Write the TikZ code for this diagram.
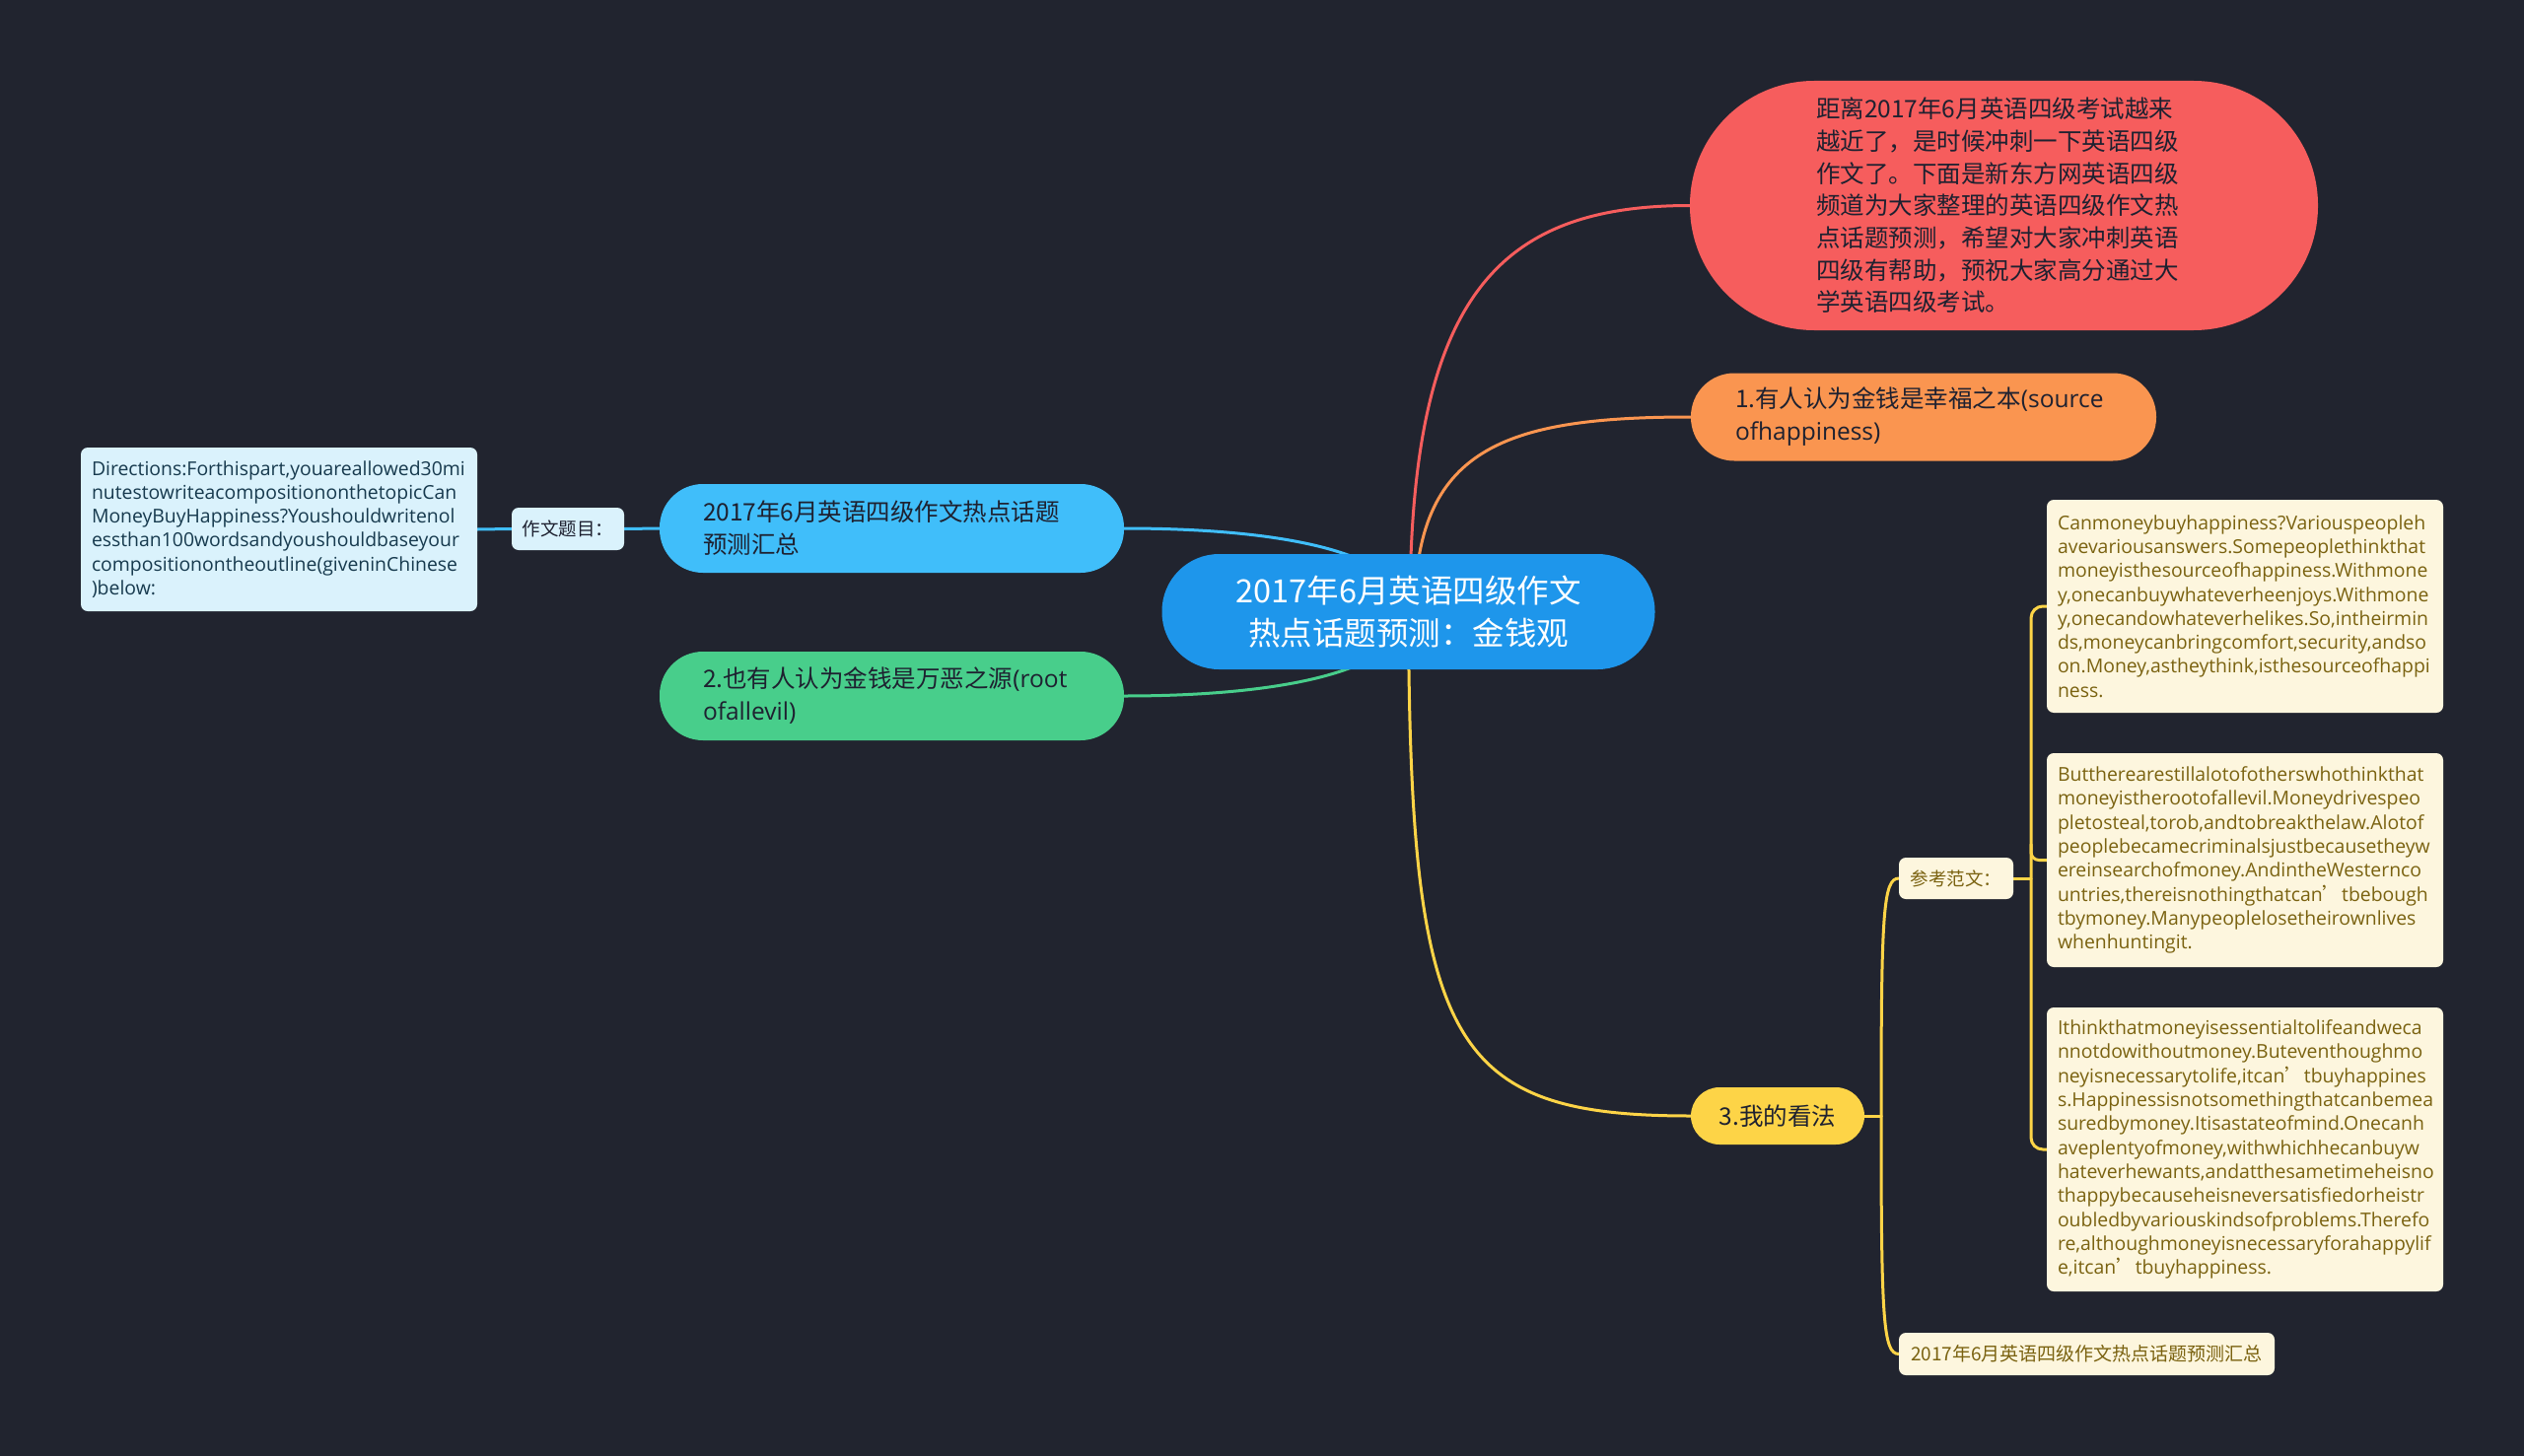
\documentclass[tikz,border=0pt]{standalone}
\usepackage{fontspec}
\setmainfont{Noto Sans CJK SC}
\newfontfamily\lat{Open Sans}
\newfontfamily\cjk{Noto Sans CJK SC}
\definecolor{bgc}{HTML}{21242F}
\definecolor{rootc}{HTML}{1E96EB}
\definecolor{redc}{HTML}{F65D5D}
\definecolor{orangec}{HTML}{FA9550}
\definecolor{lbluec}{HTML}{40BEFA}
\definecolor{greenc}{HTML}{48CE8B}
\definecolor{yellowc}{HTML}{FDD447}
\definecolor{creamc}{HTML}{FDF6DE}
\definecolor{cyanc}{HTML}{DAF2FC}
\definecolor{olivet}{HTML}{7A6210}
\definecolor{darkt}{HTML}{1E2130}
\definecolor{dirt}{HTML}{173A4E}
\pgfdeclarelayer{back}
\pgfdeclarelayer{edges}
\pgfsetlayers{back,edges,main}
\begin{document}
\begin{tikzpicture}[x=1pt,y=-1pt,
  every node/.style={inner sep=0pt,outer sep=0pt},
  rootnode/.style={fill=rootc,text=white,rounded corners=58pt,minimum width=500pt,minimum height=117pt,align=center,font=\fontsize{32.5}{43}\selectfont},
  bignode/.style={fill=redc,text=darkt,rounded corners=126pt,minimum width=637pt,minimum height=253pt,text width=381pt,align=left,font=\fontsize{24.5}{32.7}\selectfont},
  midnode/.style={text=darkt,rounded corners=44pt,minimum width=472pt,minimum height=89pt,text width=382pt,align=left,font=\fontsize{24.5}{33}\selectfont},
  ynode/.style={fill=yellowc,text=darkt,rounded corners=29pt,minimum width=176pt,minimum height=58pt,align=center,font=\fontsize{24.5}{30}\selectfont},
  tagbox/.style={rounded corners=7pt,minimum height=43pt,align=center,font=\fontsize{18.5}{22}\selectfont},
  textbox/.style={rounded corners=7pt,minimum width=402pt,text width=380pt,align=left,font=\lat\fontsize{19.4}{24.3}\selectfont},
  edge/.style={line width=3pt,line cap=round},
]
\begin{pgfonlayer}{back}
\fill[bgc] (0,0) rectangle (2560,1477);
\end{pgfonlayer}
\useasboundingbox (0,0) rectangle (2560,1477);

% main nodes
\node[rootnode] (root) at (1428.5,620.5) {2017年6月英语四级作文\\热点话题预测：金钱观};
\node[bignode] (red) at (2032.5,208.5) {距离2017年6月英语四级考试越来\\越近了，是时候冲刺一下英语四级\\作文了。下面是新东方网英语四级\\频道为大家整理的英语四级作文热\\点话题预测，希望对大家冲刺英语\\四级有帮助，预祝大家高分通过大\\学英语四级考试。};
\node[midnode,fill=orangec] (org) at (1951,423) {1.有人认为金钱是幸福之本{\lat(source}\\{\lat ofhappiness)}};
\node[midnode,fill=lbluec,minimum width=471pt,minimum height=90pt,text width=383pt] (lb) at (904.5,536) {2017年6月英语四级作文热点话题\\预测汇总};
\node[midnode,fill=greenc,minimum width=471pt,minimum height=90pt,text width=383pt] (gr) at (904.5,706) {2.也有人认为金钱是万恶之源{\lat(root}\\{\lat ofallevil)}};
\node[ynode] (yl) at (1803,1132) {3.我的看法};

% left side
\node[tagbox,fill=cyanc,text=darkt,minimum width=114pt] (zt) at (576,536.5) {作文题目：};
\node[textbox,fill=cyanc,text=dirt,minimum height=166pt] (dir) at (283,537) {Directions:Forthispart,youareallowed30mi\\nutestowriteacompositiononthetopicCan\\MoneyBuyHappiness?Youshouldwritenol\\essthan100wordsandyoushouldbaseyour\\compositionontheoutline(giveninChinese\\)below:};

% right side
\node[tagbox,fill=creamc,text=olivet,minimum width=116pt,minimum height=42pt] (pf) at (1984,891) {参考范文：};
\node[tagbox,fill=creamc,text=olivet,minimum width=381pt,font=\fontsize{19}{22}\selectfont] (bt) at (2116.5,1373.5) {2017年6月英语四级作文热点话题预测汇总};
\node[textbox,fill=creamc,text=olivet,minimum height=216pt] (b1) at (2277,615) {Canmoneybuyhappiness?Variouspeopleh\\avevariousanswers.Somepeoplethinkthat\\moneyisthesourceofhappiness.Withmone\\y,onecanbuywhateverheenjoys.Withmone\\y,onecandowhateverhelikes.So,intheirmin\\ds,moneycanbringcomfort,security,andso\\on.Money,astheythink,isthesourceofhappi\\ness.};
\node[textbox,fill=creamc,text=olivet,minimum height=217pt] (b2) at (2277,872.5) {Buttherearestillalotofotherswhothinkthat\\moneyistherootofallevil.Moneydrivespeo\\pletosteal,torob,andtobreakthelaw.Alotof\\peoplebecamecriminalsjustbecausetheyw\\ereinsearchofmoney.AndintheWesternco\\untries,thereisnothingthatcan{\cjk ’}tbebough\\tbymoney.Manypeoplelosetheirownlives\\whenhuntingit.};
\node[textbox,fill=creamc,text=olivet,minimum height=288pt] (b3) at (2277,1166) {Ithinkthatmoneyisessentialtolifeandweca\\nnotdowithoutmoney.Buteventhoughmo\\neyisnecessarytolife,itcan{\cjk ’}tbuyhappines\\s.Happinessisnotsomethingthatcanbemea\\suredbymoney.Itisastateofmind.Onecanh\\aveplentyofmoney,withwhichhecanbuyw\\hateverhewants,andatthesametimeheisno\\thappybecauseheisneversatisfiedorheistr\\oubledbyvariouskindsofproblems.Therefo\\re,althoughmoneyisnecessaryforahappylif\\e,itcan{\cjk ’}tbuyhappiness.};

\coordinate (yj) at (1908,1132);
\coordinate (pj) at (2060,891);

\begin{pgfonlayer}{edges}
\draw[edge,redc] ([xshift=1.5pt]root.center) .. controls (1430,300) and (1520,208.5) .. (red.west);
\draw[edge,orangec] ([xshift=6.5pt]root.center) .. controls (1435,455) and (1525,423) .. (org.west);
\draw[edge,lbluec] (lb.east) .. controls (1300,536) and (1425,560) .. (root.center);
\draw[edge,greenc] (gr.east) .. controls (1300,706) and (1425,681) .. (root.center);
\draw[edge,yellowc] (root.center) .. controls (1430,1060) and (1470,1132) .. (yl.west);
\draw[edge,lbluec] (dir.east) -- (zt.west);
\draw[edge,lbluec] (zt.east) -- (lb.west);
\draw[edge,yellowc] (yl.east) -- (yj);
\draw[edge,yellowc] (yj) .. controls (1908,925) and (1910,891) .. (pf.west);
\draw[edge,yellowc] (yj) .. controls (1908,1340) and (1910,1373.5) .. (bt.west);
\draw[edge,yellowc] (pf.east) -- (pj);
\draw[edge,yellowc,rounded corners=12pt] (b1.west) -- (b1.west -| pj) -- (b3.west -| pj) -- (b3.west);
\draw[edge,yellowc,rounded corners=8pt] (b2.west) -- (b2.west -| pj) -- ([yshift=16pt]b2.west -| pj);
\end{pgfonlayer}
\end{tikzpicture}
\end{document}
